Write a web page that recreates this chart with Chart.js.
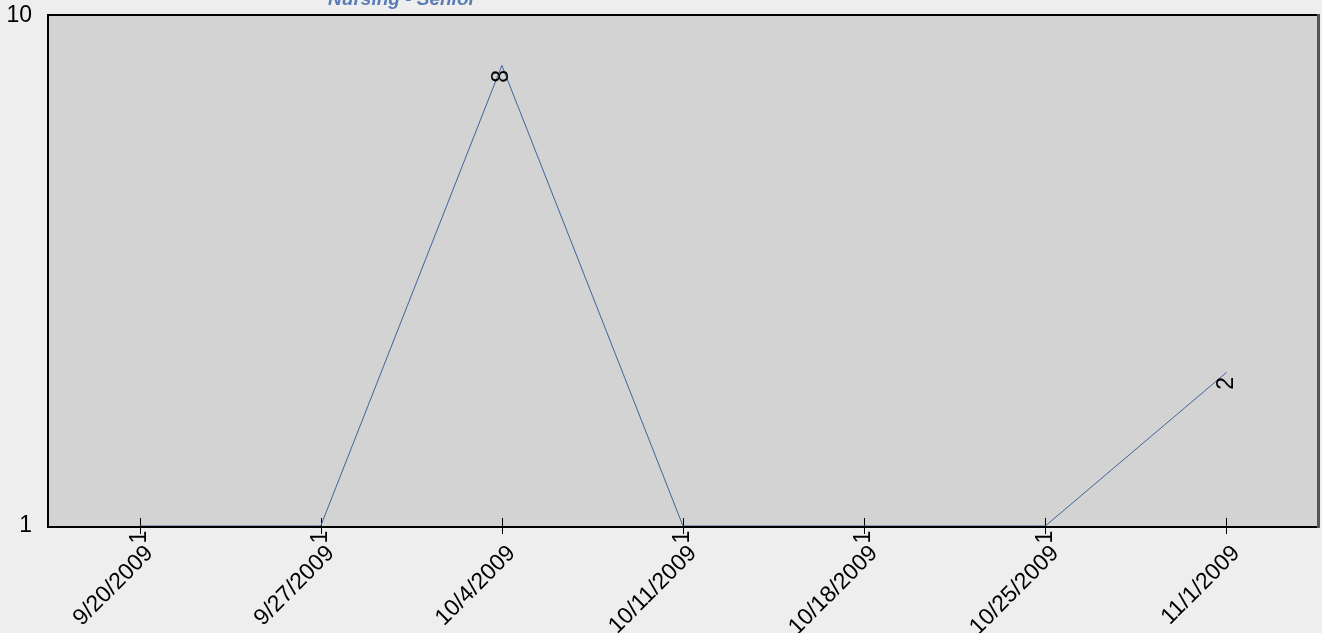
<!DOCTYPE html>
<html>
<head>
<meta charset="utf-8">
<script src="https://cdn.jsdelivr.net/npm/chart.js@4/dist/chart.umd.min.js"></script>
<style>
html,body{margin:0;padding:0;background:#eeeeee;}
#wrap{width:1322px;height:633px;position:relative;}
</style>
</head>
<body>
<div id="wrap"><canvas id="c" width="1322" height="633"></canvas></div>
<script>
const categories = ["9/20/2009","9/27/2009","10/4/2009","10/11/2009","10/18/2009","10/25/2009","11/1/2009"];
const seriesValues = [1, 1, 8, 1, 1, 1, 2];
const yTickValues = [1, 10];
const chartTitle = "Nursing - Senior";

const FONT = "'Liberation Sans', Arial, sans-serif";

const bgPlugin = {
  id: 'bgPlugin',
  beforeDraw(chart) {
    const {ctx, chartArea: a} = chart;
    ctx.save();
    ctx.fillStyle = '#eeeeee';
    ctx.fillRect(0, 0, chart.width, chart.height);
    ctx.fillStyle = '#d3d3d3';
    ctx.fillRect(a.left, a.top, a.right - a.left, a.bottom - a.top);
    ctx.restore();
  },
  beforeDatasetsDraw(chart) {
    const {ctx, chartArea: a, scales} = chart;
    ctx.save();
    ctx.strokeStyle = '#000';
    ctx.lineWidth = 2;
    ctx.beginPath();
    ctx.moveTo(a.left - 1, a.bottom + 1);
    ctx.lineTo(a.left - 1, a.top - 1);
    ctx.lineTo(a.right, a.top - 1);
    ctx.stroke();
    ctx.beginPath();
    ctx.moveTo(a.left - 2, a.bottom + 1);
    ctx.lineTo(a.right + 2, a.bottom + 1);
    ctx.stroke();
    ctx.strokeStyle = '#555555';
    ctx.lineWidth = 3;
    ctx.beginPath();
    ctx.moveTo(a.right + 1.5, a.top - 2);
    ctx.lineTo(a.right + 1.5, a.bottom + 2);
    ctx.stroke();
    ctx.strokeStyle = '#000';
    ctx.lineWidth = 1;
    const xs = scales.x;
    xs.ticks.forEach((t, i) => {
      const x = Math.round(xs.getPixelForTick(i)) + 0.5;
      ctx.beginPath();
      ctx.moveTo(x, a.bottom - 8);
      ctx.lineTo(x, a.bottom + 8);
      ctx.stroke();
    });
    ctx.restore();
  },
  afterDatasetsDraw(chart) {
    const {ctx} = chart;
    const meta = chart.getDatasetMeta(0);
    ctx.save();
    ctx.fillStyle = '#000';
    ctx.font = '23px ' + FONT;
    ctx.textAlign = 'center';
    ctx.textBaseline = 'middle';
    meta.data.forEach((pt, i) => {
      ctx.save();
      ctx.translate(pt.x, pt.y + 11);
      ctx.rotate(-Math.PI / 2);
      ctx.fillText(String(seriesValues[i]), 0, 0);
      ctx.restore();
    });
    ctx.fillStyle = '#5b7db5';
    ctx.font = 'italic bold 19px ' + FONT;
    ctx.textAlign = 'center';
    ctx.textBaseline = 'alphabetic';
    ctx.fillText(chartTitle, 402, 5);
    ctx.restore();
  }
};

new Chart(document.getElementById('c'), {
  type: 'line',
  data: {
    labels: categories,
    datasets: [{
      data: seriesValues,
      borderColor: '#3f6499',
      borderWidth: 1,
      pointRadius: 0,
      fill: false,
      tension: 0
    }]
  },
  options: {
    responsive: false,
    animation: false,
    devicePixelRatio: 1,
    layout: { padding: { left: 0, right: 5, top: 16, bottom: 0 } },
    plugins: { legend: { display: false }, tooltip: { enabled: false }, title: { display: false } },
    scales: {
      x: {
        type: 'category',
        offset: true,
        grid: { display: false, drawTicks: false },
        border: { display: false },
        ticks: {
          color: '#000',
          font: { family: FONT, size: 23 },
          minRotation: 45,
          maxRotation: 45,
          padding: 14,
          labelOffset: 10,
          autoSkip: false
        },
        afterFit(s) { s.height = 107; s.paddingLeft = 0; s.paddingRight = 0; }
      },
      y: {
        type: 'logarithmic',
        min: 1,
        max: 10,
        grid: { display: false, drawTicks: false },
        border: { display: false },
        ticks: {
          color: '#000',
          font: { family: FONT, size: 23 },
          padding: 17,
          callback: (v) => String(v)
        },
        afterBuildTicks(s) { s.ticks = yTickValues.map(v => ({ value: v })); },
        afterFit(s) { s.width = 49; s.paddingTop = 0; s.paddingBottom = 0; }
      }
    }
  },
  plugins: [bgPlugin]
});
</script>
</body>
</html>
